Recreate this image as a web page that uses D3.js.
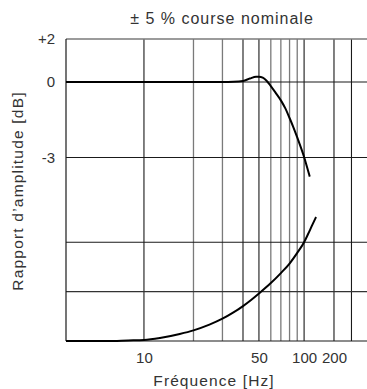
<!DOCTYPE html>
<html>
<head>
<meta charset="utf-8">
<script src="https://cdn.jsdelivr.net/npm/d3@7"></script>
<style>
  body { margin: 0; background: #fff; }
  svg text { font-family: "Liberation Sans", Arial, sans-serif; fill: #333; }
</style>
</head>
<body>
<div id="chart"></div>
<script>
// amplitude ratio curve (dB) vs frequency (Hz)
const ampFreq = [3.35, 10, 20, 30, 35, 40, 44, 48, 50, 53, 56, 60, 65, 70, 75, 80, 85, 90, 95, 100, 107, 114];
const ampDb = [0, 0, 0, 0, 0.01, 0.05, 0.16, 0.25, 0.25, 0.2, 0.07, -0.16, -0.45, -0.73, -1.05, -1.43, -1.81, -2.2, -2.59, -2.98, -3.38, -3.76];

// lower curve (phase lag, deg) vs frequency (Hz)
const phaseFreq = [3.35, 6, 8, 10, 12.5, 16.5, 20, 25, 30, 35, 40, 45, 50, 60, 70, 80, 90, 100, 110, 120, 132];
const phaseDeg = [0, 0, 0.5, 0.9, 2.7, 6.4, 9.7, 14.9, 20.3, 26, 31.8, 37.6, 43.3, 52.8, 61.9, 70.6, 80.3, 90, 97.7, 105.1, 113];

// grid + ticks
const freqGridDark = [10, 40, 50, 100, 200, 300];
const freqGridLight = [20, 30, 60, 70, 80, 90];
const freqTicks = [10, 50, 100, 200];
const dbTicks = [2, 0, -3];
const phaseGrid = [0, 45, 90];

const title = '± 5 % course nominale';
const xTitle = 'Fréquence [Hz]';
const yTitle = 'Rapport d’amplitude [dB]';

const width = 367, height = 389;
const margin = { top: 39, right: 0, bottom: 48, left: 66 };
const w = width - margin.left - margin.right;
const h = height - margin.top - margin.bottom;

const svg = d3.select('#chart').append('svg')
  .attr('width', width)
  .attr('height', height);

const g = svg.append('g').attr('transform', `translate(${margin.left},${margin.top})`);

// the printed log axis is not uniform, so piecewise log
const x = d3.scaleLog()
  .domain([3.35, 10, 50, 100, 430])
  .range([0, w * 0.259, w * 0.641, w * 0.791, w]);

const yDb = d3.scaleLinear()
  .domain([2, 0, -3])
  .range([0, h * 0.1424, h * 0.3924]);

const yPh = d3.scaleLinear()
  .domain([0, 90])
  .range([h, h * 0.673]);

const dark = '#1a1a1a', light = '#7a7a7a';

// vertical grid
g.selectAll('.vlight').data(freqGridLight).enter().append('line')
  .attr('x1', d => x(d)).attr('x2', d => x(d))
  .attr('y1', 0).attr('y2', h)
  .attr('stroke', light).attr('stroke-width', 1.3);

g.selectAll('.vdark').data(freqGridDark).enter().append('line')
  .attr('x1', d => x(d)).attr('x2', d => x(d))
  .attr('y1', 0).attr('y2', h)
  .attr('stroke', dark).attr('stroke-width', 1.1);

// horizontal grid
g.selectAll('.hdb').data(dbTicks).enter().append('line')
  .attr('x1', 0).attr('x2', w)
  .attr('y1', d => yDb(d)).attr('y2', d => yDb(d))
  .attr('stroke', d => d === 2 ? light : dark)
  .attr('stroke-width', d => d === 2 ? 1.3 : 1.1);

g.selectAll('.hph').data(phaseGrid).enter().append('line')
  .attr('x1', 0).attr('x2', w)
  .attr('y1', d => yPh(d)).attr('y2', d => yPh(d))
  .attr('stroke', d => d === 45 ? '#333' : dark)
  .attr('stroke-width', 1.1);

// left frame
g.append('line')
  .attr('x1', 0).attr('x2', 0).attr('y1', 0).attr('y2', h)
  .attr('stroke', dark).attr('stroke-width', 1.2);

// axes (labels only)
const yAxis = g.append('g')
  .call(d3.axisLeft(yDb).tickValues(dbTicks).tickSize(0).tickPadding(11)
    .tickFormat(d => d > 0 ? '+' + d : String(d)));
yAxis.select('.domain').remove();
yAxis.selectAll('text').style('font-size', '15px').style('font-family', null);

const xAxis = g.append('g')
  .attr('transform', `translate(0,${h})`)
  .call(d3.axisBottom(x).tickValues(freqTicks).tickSize(0).tickPadding(11)
    .tickFormat(d3.format('d')));
xAxis.select('.domain').remove();
xAxis.selectAll('text').style('font-size', '15px').style('font-family', null);

// curves
const ampLine = d3.line()
  .x(d => x(d[0]))
  .y(d => yDb(d[1]))
  .curve(d3.curveMonotoneX);

const phLine = d3.line()
  .x(d => x(d[0]))
  .y(d => yPh(d[1]))
  .curve(d3.curveMonotoneX);

g.append('path')
  .datum(d3.zip(ampFreq, ampDb))
  .attr('d', ampLine)
  .attr('fill', 'none')
  .attr('stroke', '#000')
  .attr('stroke-width', 2);

g.append('path')
  .datum(d3.zip(phaseFreq, phaseDeg))
  .attr('d', phLine)
  .attr('fill', 'none')
  .attr('stroke', '#000')
  .attr('stroke-width', 2);

// titles
svg.append('text')
  .attr('x', 222).attr('y', 24)
  .attr('text-anchor', 'middle')
  .style('font-size', '16px')
  .style('letter-spacing', '1px')
  .text(title);

svg.append('text')
  .attr('x', 214).attr('y', 386)
  .attr('text-anchor', 'middle')
  .style('font-size', '15.5px')
  .style('letter-spacing', '1.1px')
  .text(xTitle);

svg.append('text')
  .attr('transform', 'translate(23,191) rotate(-90)')
  .attr('text-anchor', 'middle')
  .style('font-size', '15.5px')
  .style('letter-spacing', '1.2px')
  .text(yTitle);
</script>
</body>
</html>
